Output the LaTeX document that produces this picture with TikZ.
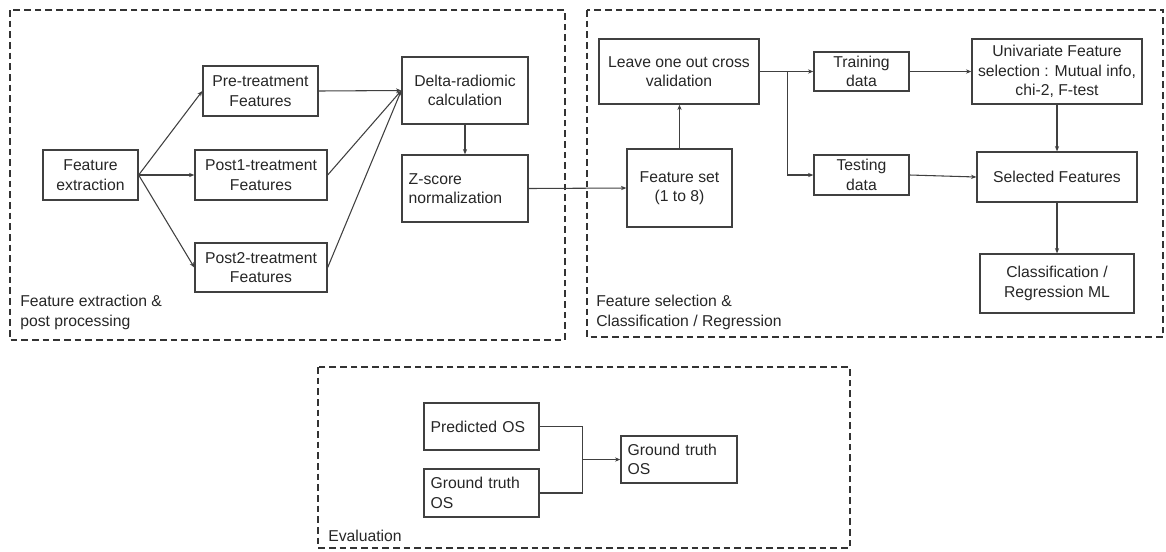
\documentclass[tikz,border=0pt]{standalone}
\usepackage{fontspec}
\setmainfont{Liberation Sans}
\usetikzlibrary{arrows.meta,calc}
\begin{document}
\begin{tikzpicture}[x=0.75pt,y=-0.75pt,
  font=\fontsize{11.8}{14.5}\selectfont,
  every node/.style={text=black!85},
  box/.style={draw=black!75,line width=1pt,align=center,inner sep=2pt},
  lbox/.style={draw=black!75,line width=1pt,align=left,inner xsep=5pt,inner ysep=2pt},
  region/.style={draw=black!80,line width=1.5pt,dash pattern=on 5pt off 3pt},
  conn/.style={draw=black!75,line width=0.8pt},
  arr/.style={conn,-{Stealth[length=4pt,width=3.2pt]}},
  caption/.style={anchor=west,align=left,inner sep=0pt,font=\fontsize{11.8}{15}\selectfont}]
\useasboundingbox (0,0) rectangle (1166,551);
% regions
\draw[region] (10,10) rectangle (565,340);
\draw[region] (587,10) rectangle (1163,337);
\draw[region] (318,367) rectangle (850,548);
\node[caption] (cap1) at (20,312) {Feature extraction \&\\post processing};
\node[caption] (cap2) at (596,312) {Feature selection \&\\Classification / Regression};
\node[caption] (cap3) at (328,536) {Evaluation};
% nodes region 1
\node[box,minimum width=71.25pt,minimum height=37.5pt] (fe) at (90.5,175) {Feature\\extraction};
\node[box,minimum width=86.25pt,minimum height=37.5pt] (pre) at (260.5,91) {Pre-treatment\\Features};
\node[box,minimum width=99pt,minimum height=37.5pt] (p1) at (261,175) {Post1-treatment\\Features};
\node[box,minimum width=99pt,minimum height=36.75pt] (p2) at (261,267.5) {Post2-treatment\\Features};
\node[box,minimum width=94.5pt,minimum height=50.25pt] (delta) at (465,90.5) {Delta-radiomic\\calculation};
\node[lbox,text width=84.5pt,minimum height=50.25pt] (z) at (465,188.5) {Z-score\\normalization};
% nodes region 2
\node[box,minimum width=120pt,minimum height=48.75pt] (leave) at (679,71.5) {Leave one out cross\\validation};
\node[box,minimum width=78.75pt,minimum height=58.5pt] (fs) at (679.5,188) {Feature set\\(1 to 8)};
\node[box,minimum width=71.25pt,minimum height=29.25pt,inner ysep=0pt] (train) at (861.5,71.5) {Training\\data};
\node[box,minimum width=71.25pt,minimum height=30pt,inner ysep=0pt] (test) at (861.5,175) {Testing\\data};
\node[box,minimum width=127.5pt,minimum height=48.75pt,inner ysep=0pt] (uni) at (1057,71.5) {Univariate Feature\\selection : Mutual info,\\chi-2, F-test};
\node[box,minimum width=120pt,minimum height=37.5pt] (sel) at (1057,177) {Selected Features};
\node[box,minimum width=115.5pt,minimum height=44.25pt] (cls) at (1057,283.5) {Classification /\\Regression ML};
% nodes region 3
\node[lbox,text width=76.25pt,minimum height=35.25pt] (pred) at (481.5,426.5) {Predicted OS};
\node[lbox,text width=76.25pt,minimum height=36pt] (gtl) at (481.5,493) {Ground truth\\OS};
\node[lbox,text width=77pt,minimum height=35.25pt] (gtr) at (679,459.5) {Ground truth\\OS};
% connectors region 1
\draw[arr] (fe.east) -- (pre.west);
\draw[arr] (fe.east) -- (p1.west);
\draw[arr] (fe.east) -- (p2.west);
\draw[arr] (pre.east) -- (delta.west);
\draw[arr] (p1.east) -- (delta.west);
\draw[arr] (p2.east) -- (delta.west);
\draw[arr] (delta.south) -- (z.north);
\draw[arr] (z.east) -- (fs.west);
% connectors region 2
\draw[arr] (fs.north) -- (fs.north |- leave.south);
\coordinate (br) at ($(leave.east)!0.51!(train.west)$);
\draw[arr] (leave.east) -- (train.west);
\draw[arr] (br) |- (test.west);
\draw[arr] (train.east) -- (uni.west);
\draw[arr] (test.east) -- (sel.west);
\draw[arr] (uni.south) -- (sel.north);
\draw[arr] (sel.south) -- (cls.north);
% connectors region 3
\coordinate (jx) at ($(pred.east)+(43,0)$);
\draw[conn] (pred.east) -- (jx) -- (jx |- gtl.east) -- (gtl.east);
\draw[arr] (jx |- gtr.west) -- (gtr.west);
\end{tikzpicture}
\end{document}
